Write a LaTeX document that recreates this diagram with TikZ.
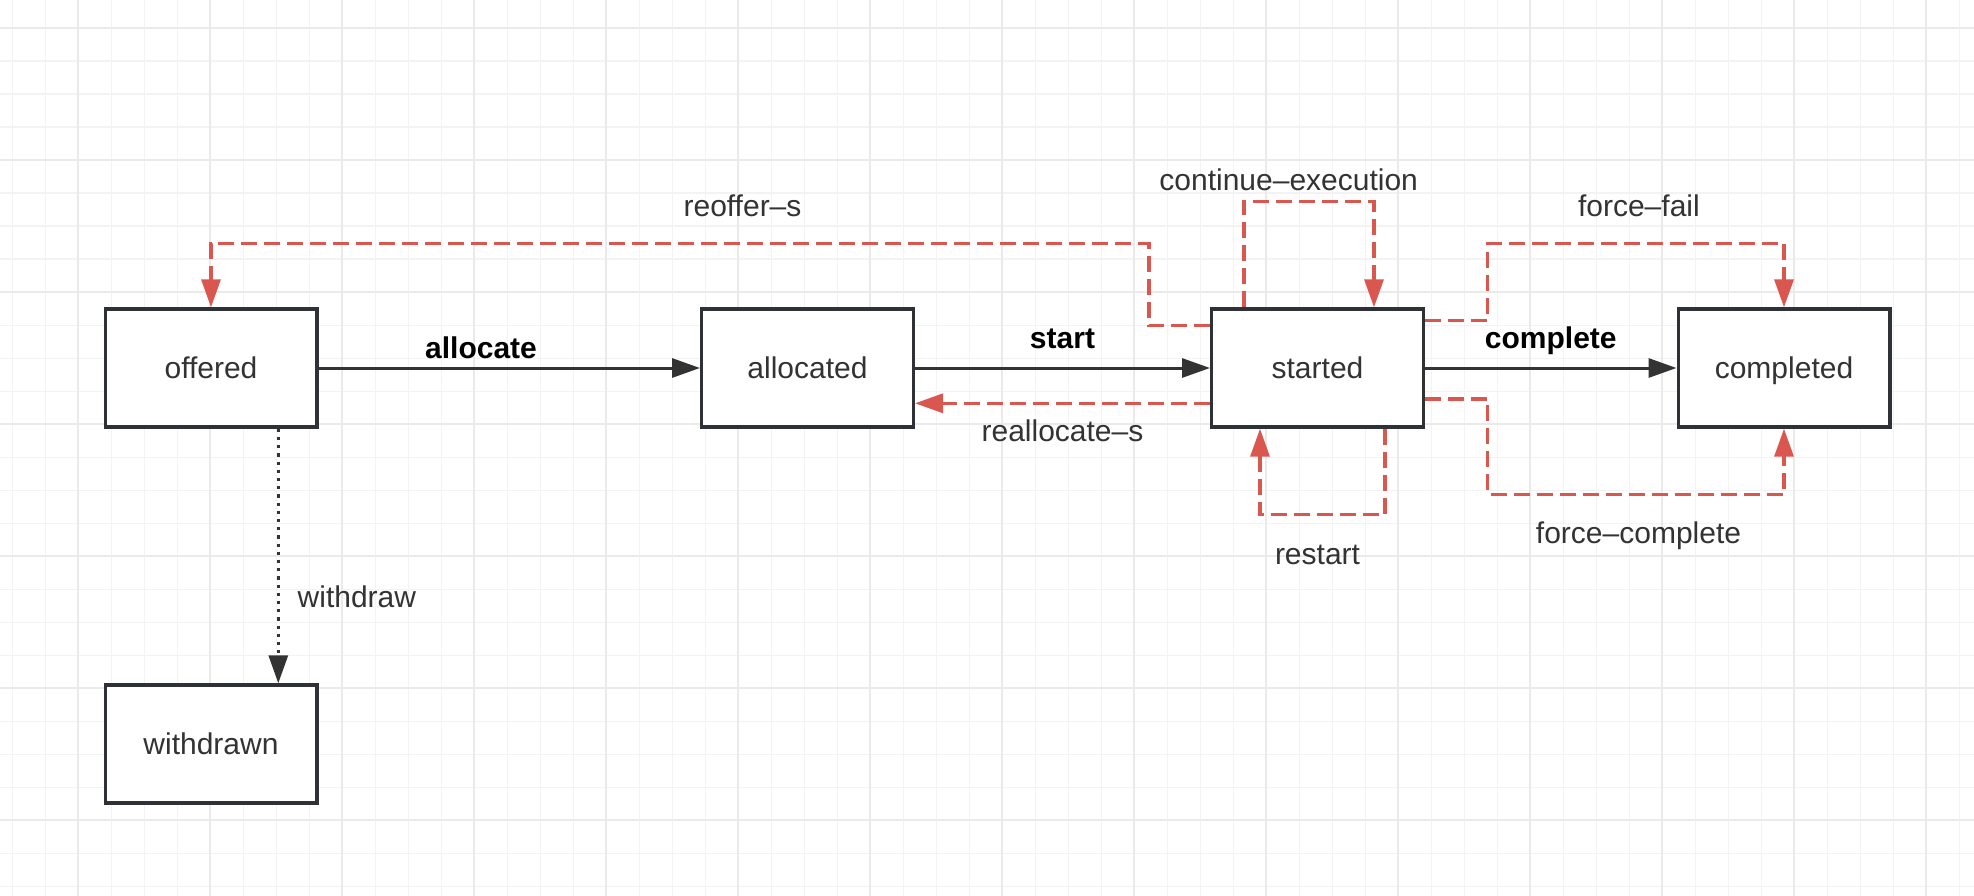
\documentclass[tikz,border=0pt]{standalone}
\usepackage{fontspec}
\setmainfont{Liberation Sans}
\usetikzlibrary{arrows.meta}

\definecolor{gridminor}{HTML}{F3F3F3}
\definecolor{gridmajor}{HTML}{EAEAEA}
\definecolor{boxline}{HTML}{2E3135}
\definecolor{flowblack}{HTML}{333333}
\definecolor{labelgray}{HTML}{333333}
\definecolor{redline}{HTML}{D9574F}

\begin{document}
\begin{tikzpicture}[x=1pt,y=-1pt,
  minorline/.style={draw=gridminor, line width=1.6pt},
  majorline/.style={draw=gridmajor, line width=1.8pt},
  state/.style={draw=boxline, line width=3.4pt, fill=white,
    minimum width=211.6pt, minimum height=118pt, inner sep=0pt,
    text height=21.5pt, text depth=0pt,
    font=\fontsize{30}{36}\selectfont, text=labelgray},
  lbl/.style={font=\fontsize{30}{36}\selectfont, text=labelgray, inner sep=0pt, anchor=base},
  boldlbl/.style={font=\fontsize{30}{36}\selectfont\bfseries, text=black, inner sep=0pt, anchor=base},
  flow/.style={draw=flowblack, line width=3pt,
    -{Triangle[length=28pt,width=19pt]}},
  dotflow/.style={draw=flowblack, line width=3.2pt, dash pattern=on 3.2pt off 5pt,
    -{Triangle[length=28pt,width=19pt]}},
  redflow/.style={draw=redline, line width=3.3pt, dash pattern=on 16pt off 7pt,
    line join=miter, -{Triangle[length=28pt,width=19pt,fill=redline]}}
]
% canvas
\useasboundingbox (0,0) rectangle (1974,896);
\fill[white] (0,0) rectangle (1974,896);

% background grid: minor every 33px, major every 132px
\foreach \i in {0,...,59} \draw[minorline] ({12.3+33*\i},0) -- ({12.3+33*\i},896);
\foreach \j in {0,...,26} \draw[minorline] (0,{28.3+33*\j}) -- (1974,{28.3+33*\j});
\foreach \i in {0,...,14} \draw[majorline] ({78.3+132*\i},0) -- ({78.3+132*\i},896);
\foreach \j in {0,...,6} \draw[majorline] (0,{28.3+132*\j}) -- (1974,{28.3+132*\j});

% states
\node[state] (off) at (211,368) {offered};
\node[state] (alc) at (807.5,368) {allocated};
\node[state] (st)  at (1317.5,368) {started};
\node[state] (cmp) at (1784,368) {completed};
\node[state] (wd)  at (211,744) {withdrawn};

% main transitions
\draw[flow] (off.east) -- (alc.west);
\draw[flow] (alc.east) -- (st.west);
\draw[flow] (st.east) -- (cmp.west);
\draw[dotflow] ([xshift=67.3pt]off.south) -- ([xshift=67.3pt]wd.north);

% exceptional transitions
\draw[redflow] ([yshift=42.3pt]st.west) -| (1149,243.3) -| (off.north);
\draw[redflow] ([xshift=-73.5pt]st.north) |- (1374,201.7) -- ([xshift=56.5pt]st.north);
\draw[redflow] ([xshift=67.5pt]st.south) |- (1260,514.3) -- ([xshift=-57.5pt]st.south);
\draw[redflow] ([yshift=-35.3pt]st.west) -- ([yshift=-35.3pt]alc.east);
\draw[redflow] ([yshift=47.3pt]st.east) -| (1487.7,243.3) -| (cmp.north);
\draw[redflow] ([yshift=-31pt]st.east) -| (1487.7,494.3) -| (cmp.south);

% transition labels
\node[boldlbl] (lalloc) at (481,358) {allocate};
\node[boldlbl] (lstart) at (1062.5,348.3) {start};
\node[boldlbl] (lcompl) at (1550.8,348.3) {complete};
\node[lbl] (lwithdraw) at (356.9,607.3) {withdraw};
\node[lbl] (lreoffer) at (742.5,216.7) {reoffer–s};
\node[lbl] (lcont) at (1288.7,190.7) {continue–execution};
\node[lbl] (lrealloc) at (1062.5,441.7) {reallocate–s};
\node[lbl] (lrestart) at (1317.5,564) {restart};
\node[lbl] (lfail) at (1638.9,216.7) {force–fail};
\node[lbl] (lforce) at (1638.5,543.3) {force–complete};
\end{tikzpicture}
\end{document}
